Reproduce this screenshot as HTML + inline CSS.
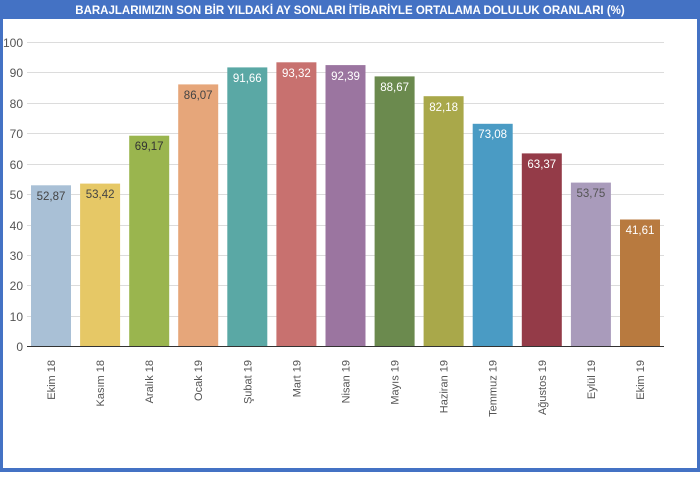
<!DOCTYPE html>
<html><head><meta charset="utf-8"><style>
html,body{margin:0;padding:0;background:#fff}
body{width:700px;height:472px;overflow:hidden;font-family:"Liberation Sans",Arial,sans-serif}
</style></head><body>
<svg width="700" height="472" viewBox="0 0 700 472" xmlns="http://www.w3.org/2000/svg" font-family="Liberation Sans, Arial, sans-serif">
<rect x="0" y="0" width="700" height="472" fill="#4472c4"/>
<rect x="3" y="19" width="694" height="449" fill="#fff"/>
<text x="350" y="14" text-anchor="middle" font-size="11.5" font-weight="bold" fill="#fff">BARAJLARIMIZIN SON BİR YILDAKİ AY SONLARI İTİBARİYLE ORTALAMA DOLULUK ORANLARI (%)</text>
<g stroke="#dcdcdc" stroke-width="1">
<line x1="27" x2="664" y1="42.5" y2="42.5"/><line x1="27" x2="664" y1="72.5" y2="72.5"/><line x1="27" x2="664" y1="103.5" y2="103.5"/><line x1="27" x2="664" y1="133.5" y2="133.5"/><line x1="27" x2="664" y1="164.5" y2="164.5"/><line x1="27" x2="664" y1="194.5" y2="194.5"/><line x1="27" x2="664" y1="225.5" y2="225.5"/><line x1="27" x2="664" y1="255.5" y2="255.5"/><line x1="27" x2="664" y1="285.5" y2="285.5"/><line x1="27" x2="664" y1="316.5" y2="316.5"/>
</g>
<g font-size="12" fill="#555" text-anchor="end">
<text x="23" y="47">100</text><text x="23" y="77">90</text><text x="23" y="108">80</text><text x="23" y="138">70</text><text x="23" y="169">60</text><text x="23" y="199">50</text><text x="23" y="230">40</text><text x="23" y="260">30</text><text x="23" y="290">20</text><text x="23" y="321">10</text><text x="23" y="351">0</text>
</g>
<g>
<rect x="31" y="185.3" width="40" height="160.7" fill="#a9c0d6"/>
<rect x="80.1" y="183.6" width="40" height="162.4" fill="#e6c866"/>
<rect x="129.2" y="135.7" width="40" height="210.3" fill="#9ab54e"/>
<rect x="178.2" y="84.4" width="40" height="261.6" fill="#e6a67a"/>
<rect x="227.3" y="67.4" width="40" height="278.6" fill="#5aa8a5"/>
<rect x="276.4" y="62.3" width="40" height="283.7" fill="#c8716f"/>
<rect x="325.5" y="65.1" width="40" height="280.9" fill="#9b75a0"/>
<rect x="374.6" y="76.4" width="40" height="269.6" fill="#6b8a4e"/>
<rect x="423.6" y="96.2" width="40" height="249.8" fill="#a9a84a"/>
<rect x="472.7" y="123.8" width="40" height="222.2" fill="#4a9bc4"/>
<rect x="521.8" y="153.4" width="40" height="192.6" fill="#943b48"/>
<rect x="570.9" y="182.6" width="40" height="163.4" fill="#a99bbb"/>
<rect x="620" y="219.5" width="40" height="126.5" fill="#b87a3f"/>
</g>
<g font-size="11.5" text-anchor="middle">
<text x="51" y="200" fill="#444">52,87</text>
<text x="100.1" y="198" fill="#444">53,42</text>
<text x="149.2" y="150" fill="#333">69,17</text>
<text x="198.2" y="99" fill="#444">86,07</text>
<text x="247.3" y="82" fill="#fff">91,66</text>
<text x="296.4" y="77" fill="#fff">93,32</text>
<text x="345.5" y="80" fill="#fff">92,39</text>
<text x="394.6" y="91" fill="#fff">88,67</text>
<text x="443.6" y="111" fill="#fff">82,18</text>
<text x="492.7" y="138" fill="#fff">73,08</text>
<text x="541.8" y="168" fill="#fff">63,37</text>
<text x="590.9" y="197" fill="#555">53,75</text>
<text x="640" y="234" fill="#fff">41,61</text>
</g>
<g font-size="11" fill="#555" text-anchor="end">
<text transform="translate(55,360) rotate(-90)">Ekim 18</text>
<text transform="translate(104.1,360) rotate(-90)">Kasım 18</text>
<text transform="translate(153.2,360) rotate(-90)">Aralık 18</text>
<text transform="translate(202.2,360) rotate(-90)">Ocak 19</text>
<text transform="translate(251.3,360) rotate(-90)">Şubat 19</text>
<text transform="translate(300.4,360) rotate(-90)">Mart 19</text>
<text transform="translate(349.5,360) rotate(-90)">Nisan 19</text>
<text transform="translate(398.6,360) rotate(-90)">Mayıs 19</text>
<text transform="translate(447.6,360) rotate(-90)">Haziran 19</text>
<text transform="translate(496.7,360) rotate(-90)">Temmuz 19</text>
<text transform="translate(545.8,360) rotate(-90)">Ağustos 19</text>
<text transform="translate(594.9,360) rotate(-90)">Eylül 19</text>
<text transform="translate(644,360) rotate(-90)">Ekim 19</text>
</g>
<line x1="27" x2="664" y1="346.5" y2="346.5" stroke="#333" stroke-width="1"/>
</svg>
</body></html>
